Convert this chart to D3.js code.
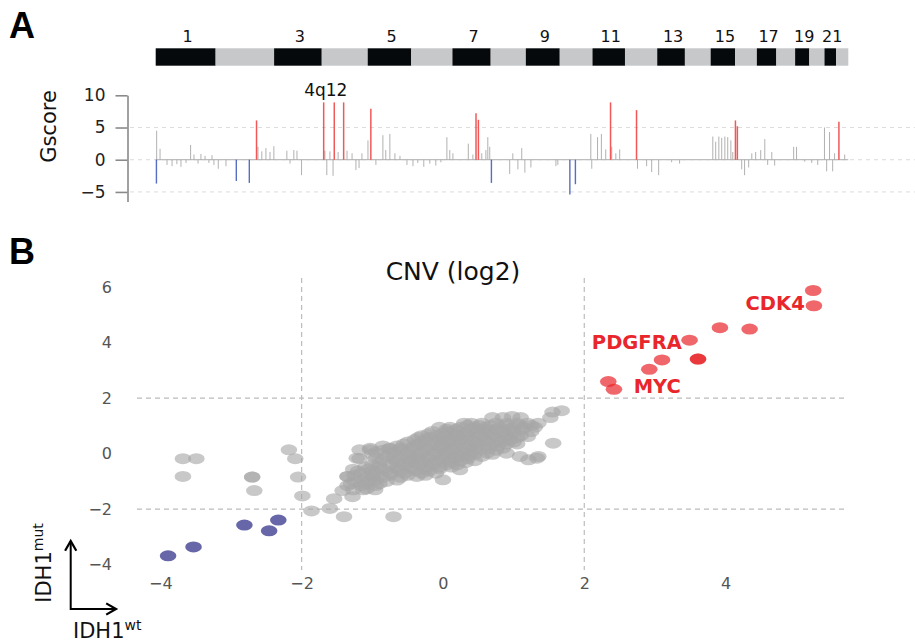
<!DOCTYPE html>
<html>
<head>
<meta charset="utf-8">
<script src="https://cdn.jsdelivr.net/npm/d3@7"></script>
<style>
  html, body { margin: 0; padding: 0; background: #fff; }
  svg { display: block; font-family: "DejaVu Sans", Verdana, sans-serif; }
</style>
</head>
<body>
<svg id="chart" width="915" height="644"></svg>
<script>
// ---------------- DATA ----------------
// Chromosome lengths (Mb), chromosomes 1..22
const chromNames = ["1","2","3","4","5","6","7","8","9","10","11","12","13","14","15","16","17","18","19","20","21","22"];
const chromLengths = [249,243,198,191,181,171,159,146,141,136,135,134,115,107,102,90,81,78,59,63,48,51];
const gscoreTicks = [10, 5, 0, -5];

// GISTIC G-scores: [genome position (Mb), score]
const gscoreAmpPeaks = [
  [419, 6.1], [698, 8.9], [742, 8.9], [781, 8.9], [894, 7.9],
  [1331, 7.2], [1341, 6.2], [1890, 8.9], [1998, 7.7],
  [2409, 6.1], [2417, 5.2], [2839, 5.9]
];
const gscoreDelPeaks = [
  [3, -3.7], [335, -3.3], [389, -3.6], [1395, -3.6], [1721, -5.4], [1744, -3.8]
];
const gscoreOther = [
  [4,4.5],[18,1.7],[47,-0.8],[68,-1.0],[88,-0.7],[105,-1.1],[126,-0.5],[145,2.3],[159,0.8],
  [176,-0.6],[188,0.9],[205,0.6],[221,-0.5],[234,0.7],[242,-0.8],[260,-1.4],[292,-1.0],
  [425,2.0],[441,1.3],[458,1.8],[475,1.2],[491,2.1],[545,1.4],[558,-0.6],[574,1.5],[587,1.4],
  [606,-2.4],[703,1.4],[711,-2.4],[724,1.3],[737,-2.5],[758,1.2],[795,1.4],[816,1.0],
  [832,-1.6],[845,-1.3],[857,1.0],[882,3.0],[915,-0.8],[944,3.8],[956,1.5],[973,4.0],
  [994,1.0],[1015,0.6],[1044,-0.8],[1069,-1.0],[1089,-0.5],[1114,-1.1],[1139,-0.6],
  [1164,-0.9],[1185,-0.4],[1210,3.5],[1222,1.5],[1235,1.0],[1299,2.5],[1318,0.8],
  [1355,1.0],[1372,1.5],[1380,3.5],[1388,2.0],[1471,-2.2],[1484,1.0],[1505,-1.5],
  [1521,1.8],[1534,-2.0],[1559,-1.2],[1663,-1.0],[1671,-0.8],[1808,4.0],[1812,-1.4],
  [1836,3.5],[1852,4.0],[1870,1.6],[1895,2.0],[1912,1.0],[1928,1.6],[2002,-1.4],
  [2040,-1.0],[2061,-1.9],[2090,-2.4],[2144,-0.4],[2177,-0.6],[2315,3.6],[2327,2.8],
  [2340,3.6],[2352,3.4],[2365,3.6],[2377,3.5],[2390,3.0],[2398,1.2],[2435,-1.5],
  [2447,-2.4],[2464,-1.2],[2477,1.0],[2493,1.2],[2514,1.5],[2531,3.2],[2543,-0.8],
  [2560,1.2],[2572,-0.9],[2651,2.0],[2663,2.0],[2697,-0.3],[2726,-0.5],[2751,-0.8],
  [2779,5.0],[2788,-1.8],[2800,4.3],[2813,-1.8],[2821,1.0],[2863,0.8]
];
const peakLabel = { text: "4q12", pos: 740 };

// CNV (log2): [IDH1 wt, IDH1 mut]
const cnvTicks = [-4, -2, 0, 2, 4, 6];
const cnvGain = [
  [5.24,5.88],[5.25,5.33],[3.92,4.54],[4.34,4.49],[3.49,4.09],
  [3.61,3.41],[3.61,3.41],[3.10,3.38],[2.92,3.04],[2.34,2.60],[2.42,2.32]
];
const cnvLoss = [
  [-3.89,-3.68],[-3.53,-3.36],[-2.81,-2.57],[-2.46,-2.78],[-2.33,-2.39]
];
const cnvOther = [
  [-3.68,-0.18],[-3.49,-0.18],[-3.68,-0.82],[-2.70,-0.84],[-2.70,-0.84],[-2.67,-1.33],
  [-2.18,0.14],[-2.09,-0.18],[-2.05,-0.84],[-1.99,-1.52],[-1.86,-2.06],[-1.60,-1.97],
  [-1.54,-1.62],[-1.40,-2.27],[-0.70,-2.27],[-1.42,-1.33],[-1.28,-1.55],[-1.35,-0.82],
  [-1.35,-0.82],[-1.18,0.14],[-1.03,0.14],[-1.18,-0.18],[-0.76,0.18],[-0.96,-1.30],
  [-1.13,-1.30],[-0.99,-0.82],
  [1.55,1.50],[1.68,1.55],[0.70,1.30],[0.85,1.30],[0.98,1.34],[1.10,1.30],[1.52,1.30],
  [0.30,1.10],[0.40,1.10],[0.55,1.10],[0.75,1.10],[0.90,1.10],[1.05,1.10],[1.20,1.10],[1.35,1.10],
  [0.35,1.02],[0.52,1.02],[0.68,1.02],[0.88,1.02],[1.08,1.02],[1.25,1.02],
  [-0.05,0.95],[0.10,0.95],[0.25,0.95],[0.45,0.95],[0.60,0.95],[0.80,0.95],[1.00,0.95],[1.15,0.95],[1.30,0.95],
  [0.05,0.88],[0.18,0.88],[0.42,0.88],[0.58,0.88],[0.75,0.88],[0.92,0.88],[1.12,0.88],
  [-0.15,0.80],[0.05,0.80],[0.20,0.80],[0.35,0.80],[0.50,0.80],[0.65,0.80],[0.85,0.80],[1.00,0.80],[1.25,0.80],
  [-0.20,0.72],[0.00,0.72],[0.15,0.72],[0.30,0.72],[0.47,0.72],[0.62,0.72],[0.80,0.72],[1.00,0.72],
  [-0.30,0.65],[-0.10,0.65],[0.05,0.65],[0.20,0.65],[0.35,0.65],[0.55,0.65],[0.70,0.65],[0.90,0.65],[1.10,0.65],[1.20,0.62],
  [-0.35,0.58],[-0.18,0.58],[0.00,0.58],[0.18,0.58],[0.33,0.58],[0.50,0.58],[0.70,0.58],[0.88,0.58],[1.05,0.58],
  [-0.40,0.50],[-0.25,0.50],[-0.05,0.50],[0.10,0.50],[0.25,0.50],[0.40,0.50],[0.60,0.50],[0.80,0.50],[0.95,0.50],
  [-0.50,0.42],[-0.30,0.42],[-0.10,0.42],[0.08,0.42],[0.22,0.42],[0.45,0.42],[0.62,0.42],[0.82,0.42],[1.00,0.42],
  [-0.55,0.35],[-0.35,0.35],[-0.15,0.35],[0.00,0.35],[0.15,0.35],[0.35,0.35],[0.50,0.35],[0.70,0.35],[0.90,0.35],[1.05,0.35],[1.56,0.38],
  [-0.85,0.28],[-0.65,0.28],[-0.40,0.28],[-0.20,0.28],[-0.02,0.28],[0.20,0.28],[0.40,0.28],[0.58,0.28],[0.78,0.28],
  [-1.03,0.20],[-0.75,0.20],[-0.60,0.20],[-0.45,0.20],[-0.25,0.20],[-0.05,0.20],[0.10,0.20],[0.30,0.20],[0.45,0.20],[0.65,0.20],[0.85,0.20],
  [-0.85,0.12],[-0.60,0.12],[-0.40,0.12],[-0.20,0.12],[0.00,0.12],[0.15,0.12],[0.35,0.12],[0.52,0.12],[0.75,0.12],
  [-0.95,0.05],[-0.70,0.05],[-0.50,0.05],[-0.30,0.05],[-0.10,0.05],[0.05,0.05],[0.25,0.05],[0.40,0.05],[0.62,0.02],[0.90,0.02],
  [-1.00,-0.02],[-0.75,-0.02],[-0.50,-0.02],[-0.30,-0.02],[-0.10,-0.02],[0.10,-0.02],[0.28,-0.02],[0.45,-0.02],[0.70,-0.02],
  [-1.22,-0.16],[-0.80,-0.10],[-0.60,-0.10],[-0.40,-0.10],[-0.20,-0.10],[0.00,-0.10],[0.20,-0.10],[0.35,-0.10],[0.55,-0.10],[1.09,-0.10],[1.35,-0.10],
  [-0.95,-0.18],[-0.70,-0.18],[-0.50,-0.18],[-0.35,-0.18],[-0.20,-0.18],[0.00,-0.18],[0.18,-0.18],[0.35,-0.18],
  [-0.85,-0.25],[-0.65,-0.25],[-0.45,-0.25],[-0.30,-0.25],[-0.10,-0.25],[0.10,-0.25],[0.25,-0.25],[0.45,-0.25],[1.21,-0.22],[1.33,-0.16],
  [-0.90,-0.32],[-0.65,-0.32],[-0.45,-0.32],[-0.25,-0.32],[-0.05,-0.32],[0.12,-0.32],[0.32,-0.32],
  [-1.00,-0.40],[-0.75,-0.40],[-0.55,-0.40],[-0.35,-0.40],[-0.15,-0.40],[0.05,-0.40],[0.20,-0.40],
  [-1.10,-0.48],[-0.90,-0.48],[-0.65,-0.48],[-0.45,-0.48],[-0.25,-0.48],[-0.05,-0.48],[0.12,-0.48],
  [-1.27,-0.56],[-1.05,-0.55],[-0.85,-0.55],[-0.65,-0.55],[-0.45,-0.55],[-0.25,-0.55],[-0.05,-0.55],[0.24,-0.58],
  [-1.20,-0.62],[-1.00,-0.62],[-0.80,-0.62],[-0.60,-0.62],[-0.40,-0.62],[-0.20,-0.62],
  [-1.15,-0.70],[-0.95,-0.70],[-0.75,-0.70],[-0.55,-0.70],[-0.30,-0.70],[-0.10,-0.70],
  [-1.25,-0.78],[-1.00,-0.78],[-0.75,-0.78],[-0.50,-0.78],[-0.25,-0.78],
  [-1.10,-0.85],[-0.85,-0.85],[-0.60,-0.85],[-0.37,-0.82],[0.00,-0.94],
  [-1.15,-0.95],[-0.95,-0.95],[-0.65,-0.95],
  [-1.25,-1.00],[-1.05,-1.00],[-0.80,-1.00],
  [-1.30,-1.08],[-1.10,-1.08],[-0.90,-1.08],
  [-1.35,-1.15],[-1.15,-1.15],[-0.95,-1.15],
  [-1.27,-1.30],[-1.08,-1.27]
];
const cnvLabels = [
  { text: "CDK4", x: 5.12, y: 5.43, anchor: "end" },
  { text: "PDGFRA", x: 3.38, y: 4.03, anchor: "end" },
  { text: "MYC", x: 2.70, y: 2.44, anchor: "start" }
];

// ---------------- DRAW ----------------
const svg = d3.select("#chart");
svg.append("rect").attr("width", 915).attr("height", 644).attr("fill", "#fff");

// Panel letters
svg.append("text").attr("x", 9).attr("y", 38).text("A")
  .attr("font-family", "Liberation Sans, Arial, sans-serif").attr("font-weight", "bold").attr("font-size", 36);
svg.append("text").attr("x", 9).attr("y", 264).text("B")
  .attr("font-family", "Liberation Sans, Arial, sans-serif").attr("font-weight", "bold").attr("font-size", 36);

// ----- Panel A -----
const chromStarts = chromLengths.map((d, i) => d3.sum(chromLengths.slice(0, i)));
const genomeTotal = d3.sum(chromLengths);
const gx = d3.scaleLinear().domain([0, genomeTotal]).range([155.7, 848.3]);
const gy = d3.scaleLinear().domain([-6.5, 10]).range([201.6, 95.3]);

const chroms = chromNames.map((n, i) => ({ name: n, start: chromStarts[i], len: chromLengths[i], i }));
svg.append("g").selectAll("rect").data(chroms).join("rect")
  .attr("x", d => gx(d.start)).attr("width", d => gx(d.start + d.len) - gx(d.start))
  .attr("y", 48.3).attr("height", 17.4)
  .attr("fill", d => d.i % 2 === 0 ? "#06090b" : "#c7c8ca");
svg.append("g").selectAll("text").data(chroms.filter(d => d.i % 2 === 0)).join("text")
  .attr("x", d => gx(d.start + d.len / 2) + 2).attr("y", 42)
  .attr("text-anchor", "middle").attr("font-size", 16).attr("fill", "#111")
  .text(d => d.name);

// Gridlines
svg.append("g").selectAll("line").data([5, 0, -5]).join("line")
  .attr("x1", 130).attr("x2", 915).attr("y1", d => gy(d)).attr("y2", d => gy(d))
  .attr("stroke", "#dcdcdc").attr("stroke-width", 1).attr("stroke-dasharray", "4,4");

// Axis
const gAxis = svg.append("g").attr("transform", "translate(127.5,0)")
  .call(d3.axisLeft(gy).tickValues(gscoreTicks).tickSize(12).tickSizeOuter(0).tickPadding(10)
    .tickFormat(d3.format("d")));
gAxis.select(".domain").attr("stroke", "#8a8a8a").attr("stroke-width", 1.6);
gAxis.selectAll(".tick line").attr("stroke", "#8a8a8a").attr("stroke-width", 1.6);
gAxis.selectAll(".tick text").attr("font-size", 17).attr("fill", "#222")
  .attr("font-family", "DejaVu Sans, Verdana, sans-serif");
svg.append("text").attr("transform", "translate(56,126.5) rotate(-90)")
  .attr("text-anchor", "middle").attr("font-size", 21).attr("fill", "#111").text("Gscore");

// baseline
svg.append("line").attr("x1", gx(0)).attr("x2", gx(genomeTotal))
  .attr("y1", gy(0)).attr("y2", gy(0)).attr("stroke", "#bdbdbd").attr("stroke-width", 1.2);

function spikes(data, color, width, opacity) {
  svg.append("g").selectAll("line").data(data).join("line")
    .attr("x1", d => gx(d[0])).attr("x2", d => gx(d[0]))
    .attr("y1", gy(0)).attr("y2", d => gy(d[1]))
    .attr("stroke", color).attr("stroke-width", width).attr("stroke-opacity", opacity);
}
spikes(gscoreOther, "#a9a9a9", 1, 0.9);
spikes(gscoreAmpPeaks, "#ee3b3b", 1.5, 0.85);
spikes(gscoreDelPeaks, "#3a55b8", 1.4, 0.85);

svg.append("text").attr("x", gx(peakLabel.pos) - 8).attr("y", 96)
  .attr("text-anchor", "middle").attr("font-size", 17).attr("fill", "#111").text(peakLabel.text);

// ----- Panel B -----
const sx = d3.scaleLinear().domain([-4.33, 5.69]).range([137, 845]);
const sy = d3.scaleLinear().domain([-4.19, 6.33]).range([570, 278]);

// dashed reference lines
svg.append("g").selectAll("line").data([-2, 2]).join("line")
  .attr("x1", d => sx(d)).attr("x2", d => sx(d)).attr("y1", 278).attr("y2", 570)
  .attr("stroke", "#bcbcbc").attr("stroke-width", 1.2).attr("stroke-dasharray", "5,4");
svg.append("g").selectAll("line").data([-2, 2]).join("line")
  .attr("x1", 137).attr("x2", 845).attr("y1", d => sy(d)).attr("y2", d => sy(d))
  .attr("stroke", "#bcbcbc").attr("stroke-width", 1.2).attr("stroke-dasharray", "5,4");

// axes (no lines)
const xAx = svg.append("g").attr("transform", "translate(0,574)")
  .call(d3.axisBottom(sx).tickValues(cnvTicks.filter(d => d <= 4)).tickSize(0).tickPadding(4));
xAx.select(".domain").remove();
xAx.selectAll(".tick text").attr("font-size", 16).attr("fill", "#555")
  .attr("font-family", "DejaVu Sans, Verdana, sans-serif");
const yAx = svg.append("g").attr("transform", "translate(114,0)")
  .call(d3.axisLeft(sy).tickValues(cnvTicks).tickSize(0).tickPadding(2));
yAx.select(".domain").remove();
yAx.selectAll(".tick text").attr("font-size", 16).attr("fill", "#555")
  .attr("font-family", "DejaVu Sans, Verdana, sans-serif");

function dots(data, color, opacity) {
  svg.append("g").selectAll("ellipse").data(data).join("ellipse")
    .attr("cx", d => sx(d[0])).attr("cy", d => sy(d[1]))
    .attr("rx", 8.3).attr("ry", 5.5)
    .attr("fill", color).attr("fill-opacity", opacity);
}
dots(cnvOther, "#a6a6a6", 0.62);
dots(cnvLoss, "#55559e", 0.9);
dots(cnvGain, "#e8262b", 0.7);

svg.append("g").selectAll("text").data(cnvLabels).join("text")
  .attr("x", d => sx(d.x)).attr("y", d => sy(d.y)).attr("dy", "0.35em")
  .attr("text-anchor", d => d.anchor)
  .attr("font-size", 19.5).attr("font-weight", "bold").attr("fill", "#e8262b")
  .text(d => d.text);

svg.append("text").attr("x", 453).attr("y", 280).attr("text-anchor", "middle")
  .attr("font-size", 25).attr("fill", "#111").text("CNV (log2)");

// Axis arrows
svg.append("defs").append("marker").attr("id", "arr")
  .attr("viewBox", "0 0 10 10").attr("refX", 8).attr("refY", 5)
  .attr("markerWidth", 7).attr("markerHeight", 7).attr("orient", "auto-start-reverse")
  .append("path").attr("d", "M1,1 L8,5 L1,9").attr("fill", "none").attr("stroke", "#000").attr("stroke-width", 1.6);
svg.append("path").attr("d", "M70.7,541 L70.7,609 L116,609")
  .attr("fill", "none").attr("stroke", "#000").attr("stroke-width", 2)
  .attr("marker-start", "url(#arr)").attr("marker-end", "url(#arr)");

const yl = svg.append("text").attr("transform", "translate(51,563) rotate(-90)")
  .attr("text-anchor", "middle").attr("font-size", 21).attr("fill", "#111");
yl.append("tspan").text("IDH1");
yl.append("tspan").attr("dy", -8).attr("font-size", 14).text("mut");
const xl = svg.append("text").attr("x", 73).attr("y", 638)
  .attr("font-size", 21).attr("fill", "#111");
xl.append("tspan").text("IDH1");
xl.append("tspan").attr("dy", -8).attr("font-size", 14).text("wt");
</script>
</body>
</html>
